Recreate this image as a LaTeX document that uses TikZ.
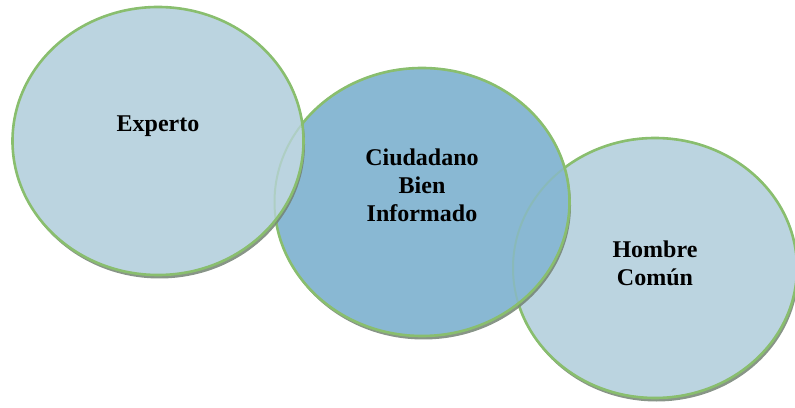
\documentclass[tikz,border=0pt]{standalone}
\usepackage{fontspec}
\setmainfont{Liberation Serif}
\usetikzlibrary{shapes.geometric,shadows}
\definecolor{rimgreen}{RGB}{137,190,110}
\definecolor{paleblue}{RGB}{187,212,224}
\definecolor{midblue}{RGB}{137,184,211}
\definecolor{shadowgray}{RGB}{115,130,115}

\begin{document}
\begin{tikzpicture}
        [
            x = 1pt, y = 1pt,
            bubble/.style   = {shape=ellipse, draw=rimgreen, line width=2.6pt, inner sep=0pt,
                               drop shadow={shadow xshift=1.5pt, shadow yshift=-3.5pt,
                                            fill=shadowgray, opacity=0.85}},
            ghost/.style    = {shape=ellipse, draw=rimgreen, draw opacity=0.25, line width=2pt, inner sep=0pt},
            caption/.style  = {align=center, font=\fontsize{24}{28}\selectfont\bfseries},
        ]
        \useasboundingbox (0,0) rectangle (795,407);
        % back to front
        \node [bubble, fill=paleblue, minimum width=284pt, minimum height=260pt] (comun) at (655,139) {};
        \node [bubble, fill=midblue, minimum width=295pt, minimum height=268pt] (ciudadano) at (422,205) {};
        \node [bubble, fill=paleblue, minimum width=291pt, minimum height=268pt] (experto) at (158,266) {};
        % rims seen through the upper bubbles
        \node [ghost, minimum width=284pt, minimum height=260pt] (comunrim) at (comun.center) {};
        \node [ghost, minimum width=295pt, minimum height=268pt] (ciudadanorim) at (ciudadano.center) {};
        \node [caption] at ([yshift=15pt]experto.center) {Experto};
        \node [caption] at ([yshift=17pt]ciudadano.center) {Ciudadano\\Bien\\Informado};
        \node [caption] at ([yshift=5pt]comun.center) {Hombre\\Común};
    \end{tikzpicture}
\end{document}
